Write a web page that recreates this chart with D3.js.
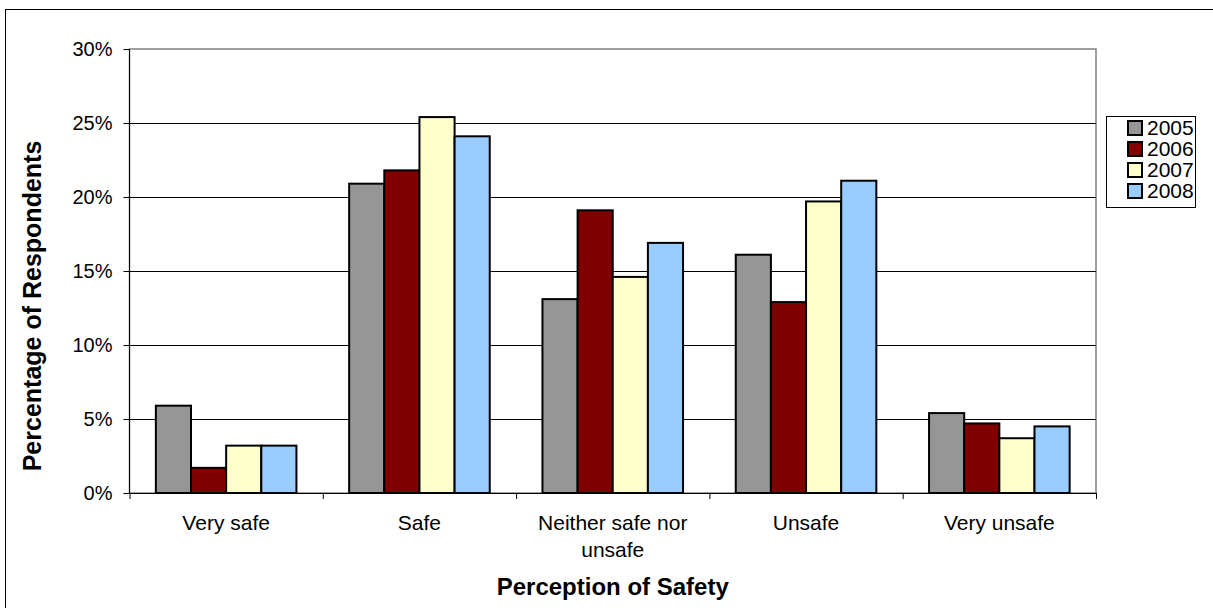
<!DOCTYPE html>
<html>
<head>
<meta charset="utf-8">
<script src="https://cdn.jsdelivr.net/npm/d3@7"></script>
<style>
  html, body { margin: 0; padding: 0; background: #fff; }
  svg { display: block; font-family: "Liberation Sans", Arial, sans-serif; }
</style>
</head>
<body>
<svg id="chart" width="1213" height="608"></svg>
<script>
const categories = ["Very safe", "Safe", "Neither safe nor unsafe", "Unsafe", "Very unsafe"];
const categoryLines = [["Very safe"], ["Safe"], ["Neither safe nor", "unsafe"], ["Unsafe"], ["Very unsafe"]];
const years = ["2005", "2006", "2007", "2008"];
const values2005 = [5.9, 20.9, 13.1, 16.1, 5.4];
const values2006 = [1.7, 21.8, 19.1, 12.9, 4.7];
const values2007 = [3.2, 25.4, 14.6, 19.7, 3.7];
const values2008 = [3.2, 24.1, 16.9, 21.1, 4.5];
const yTicks = [0, 5, 10, 15, 20, 25, 30];
const colors = ["#969696", "#800000", "#FFFFCC", "#99CCFF"];

const series = [values2005, values2006, values2007, values2008];

const svg = d3.select("#chart");
const L = 129.5, R = 1096, T = 49, B = 493;

// outer border
svg.append("rect").attr("x", 5.5).attr("y", 9.5).attr("width", 1300).attr("height", 700)
  .attr("fill", "none").attr("stroke", "#000").attr("stroke-width", 1);

const x0 = d3.scaleBand().domain(categories).range([L, R]).padding(0);
const x1 = d3.scaleBand().domain(years).range([0, x0.bandwidth()]).paddingInner(0).paddingOuter(0.75);
const y = d3.scaleLinear().domain([0, 30]).range([B, T]);

// plot area border (gray)
svg.append("rect").attr("x", L).attr("y", T).attr("width", R - L).attr("height", B - T)
  .attr("fill", "none").attr("stroke", "#808080").attr("stroke-width", 1.5);

// gridlines
svg.append("g").selectAll("line").data(yTicks.filter(t => t > 0 && t < 30)).join("line")
  .attr("x1", L).attr("x2", R).attr("y1", d => Math.round(y(d)) + 0.5).attr("y2", d => Math.round(y(d)) + 0.5)
  .attr("stroke", "#000").attr("stroke-width", 1);

// bars
const groups = svg.append("g").selectAll("g").data(categories).join("g")
  .attr("transform", d => `translate(${x0(d)},0)`);
groups.selectAll("rect").data((c, i) => years.map((yr, j) => ({ yr, v: series[j][i], j })))
  .join("rect")
  .attr("x", d => x1(d.yr))
  .attr("y", d => y(d.v))
  .attr("width", x1.bandwidth())
  .attr("height", d => B - y(d.v))
  .attr("fill", d => colors[d.j])
  .attr("stroke", "#000").attr("stroke-width", 2);

// y axis
const yAxis = d3.axisLeft(y).tickValues(yTicks).tickFormat(d => d + "%").tickSize(6).tickPadding(11);
const gy = svg.append("g").attr("transform", `translate(${L},0)`).call(yAxis);
gy.select(".domain").attr("stroke", "#000").attr("d", `M0,${T}V${B}`);
gy.selectAll(".tick line").attr("stroke", "#000");
gy.selectAll(".tick text").attr("font-size", 20).attr("font-family", "Liberation Sans, Arial, sans-serif").attr("fill", "#000");

// x axis
const boundaries = categories.map(c => x0(c)).concat([R]);
const xb = d3.scaleLinear().domain([L, R]).range([L, R]);
const gx = svg.append("g").attr("transform", `translate(0,${B})`)
  .call(d3.axisBottom(xb).tickValues(boundaries).tickFormat("").tickSize(6).tickSizeOuter(0));
gx.select(".domain").attr("stroke", "#000");
gx.selectAll(".tick line").attr("stroke", "#000");

// category labels
const lab = svg.append("g").selectAll("text").data(categories).join("text")
  .attr("x", d => x0(d) + x0.bandwidth() / 2)
  .attr("y", 530)
  .attr("text-anchor", "middle")
  .attr("font-size", 21)
  .attr("fill", "#000");
lab.each(function(d, i) {
  const t = d3.select(this);
  categoryLines[i].forEach((ln, k) => {
    t.append("tspan").attr("x", x0(d) + x0.bandwidth() / 2).attr("dy", k === 0 ? 0 : 27).text(ln);
  });
});

// axis titles
svg.append("text").attr("x", (L + R) / 2).attr("y", 595).attr("text-anchor", "middle")
  .attr("font-size", 24).attr("font-weight", "bold").text("Perception of Safety");
svg.append("text").attr("transform", `translate(41,306) rotate(-90)`)
  .attr("text-anchor", "middle").attr("font-size", 25).attr("font-weight", "bold")
  .text("Percentage of Respondents");

// legend
const lg = svg.append("g");
lg.append("rect").attr("x", 1106.5).attr("y", 116.5).attr("width", 89).attr("height", 91)
  .attr("fill", "#fff").attr("stroke", "#000").attr("stroke-width", 1);
const items = lg.selectAll("g").data(years).join("g")
  .attr("transform", (d, i) => `translate(0,${128 + i * 21})`);
items.append("rect").attr("x", 1128).attr("y", -7).attr("width", 14).attr("height", 14)
  .attr("fill", (d, i) => colors[i]).attr("stroke", "#000").attr("stroke-width", 2);
items.append("text").attr("x", 1147).attr("y", 7).attr("font-size", 21).attr("fill", "#000").text(d => d);
</script>
</body>
</html>
